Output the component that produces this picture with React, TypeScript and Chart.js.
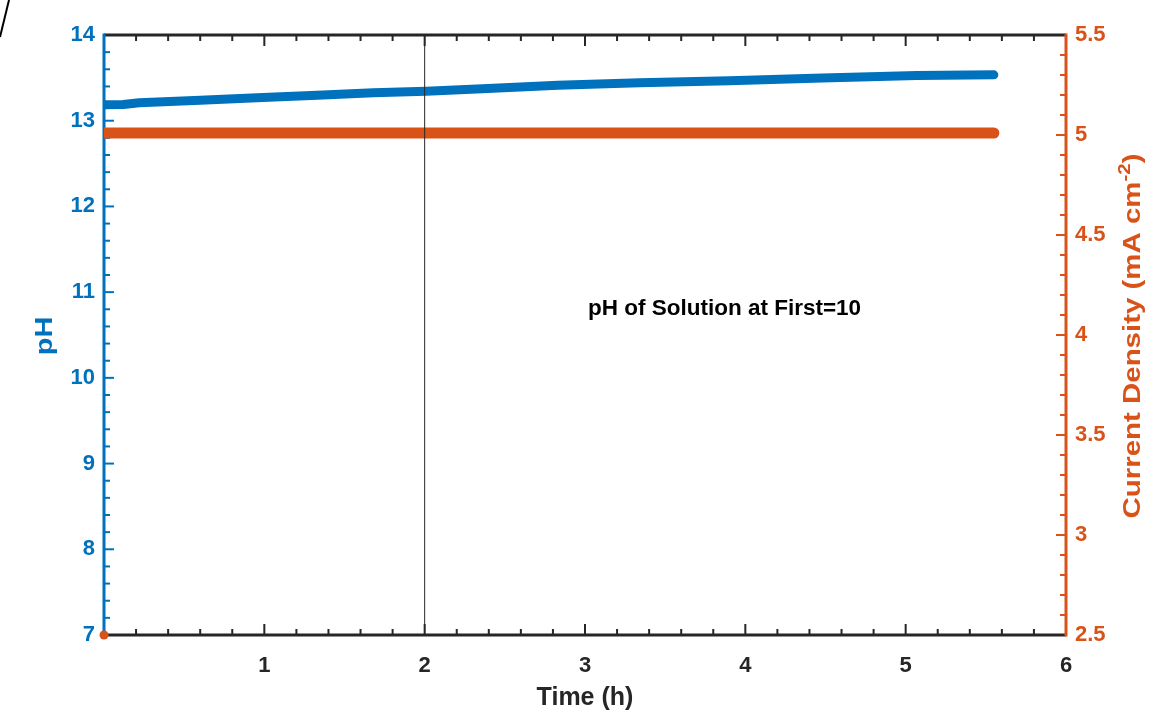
import { useEffect, useRef } from 'react';
import { Chart, registerables } from 'chart.js';

Chart.register(...registerables);

// ---- data ----
const phTime = [0, 0.12, 0.22, 0.6, 0.99, 1.33, 1.68, 2.01, 2.36, 2.83, 3.34, 3.9, 4.48, 5.07, 5.55];
const phValues = [13.185, 13.19, 13.21, 13.238, 13.272, 13.298, 13.326, 13.345, 13.372, 13.415, 13.442, 13.466, 13.497, 13.528, 13.535];
const currentTime = [0, 1, 2, 3, 4, 5, 5.55];
const currentValues = [5.01, 5.01, 5.01, 5.01, 5.01, 5.01, 5.01];
const startTime = [0];
const startCurrent = [2.5];
const markerTime = [2];
const xTitle = 'Time (h)';
const yTitle = 'pH';
const y1TitleMain = 'Current Density (mA cm';
const y1TitleSup = '-2';
const y1TitleEnd = ')';
const annotationText = 'pH of Solution at First=10';
const annotationX = 3.87;
const annotationY = 10.81;

const BLUE = '#0072BD';
const ORANGE = '#D95319';
const DARK = '#262626';
const FONT = '"Liberation Sans", Arial, sans-serif';

function drawVerticalTitle(ctx: CanvasRenderingContext2D, cx: number, cy: number, parts: { text: string; size: number; raise: number }[], color: string, stretch: number) {
  ctx.save();
  ctx.translate(cx, cy);
  ctx.rotate(-Math.PI / 2);
  ctx.scale(stretch, 1);
  ctx.fillStyle = color;
  ctx.textBaseline = 'middle';
  ctx.textAlign = 'left';
  let total = 0;
  const widths = parts.map((p) => {
    ctx.font = `bold ${p.size}px ${FONT}`;
    const w = ctx.measureText(p.text).width;
    total += w;
    return w;
  });
  let x = -total / 2;
  parts.forEach((p, i) => {
    ctx.font = `bold ${p.size}px ${FONT}`;
    ctx.fillText(p.text, x, -p.raise);
    x += widths[i];
  });
  ctx.restore();
}

const boxPlugin = {
  id: 'matlabBox',
  beforeDatasetsDraw(chart: any) {
    const { ctx, chartArea, scales } = chart;
    const { left, right, top, bottom } = chartArea;
    const xs = scales.x, yl = scales.y, yr = scales.y1;
    ctx.save();
    ctx.lineCap = 'butt';
    ctx.lineWidth = 2;
    ctx.strokeStyle = DARK;
    for (let i = 0; i <= 30; i++) {
      const px = xs.getPixelForValue(i / 5);
      const len = i % 5 === 0 ? 11 : 6;
      ctx.beginPath();
      ctx.moveTo(px, bottom); ctx.lineTo(px, bottom - len);
      ctx.moveTo(px, top); ctx.lineTo(px, top + len);
      ctx.stroke();
    }
    ctx.strokeStyle = BLUE;
    for (let i = 0; i <= 35; i++) {
      const py = yl.getPixelForValue(7 + i * 0.2);
      const len = i % 5 === 0 ? 10 : 6;
      ctx.beginPath();
      ctx.moveTo(left, py); ctx.lineTo(left + len, py);
      ctx.stroke();
    }
    ctx.strokeStyle = ORANGE;
    for (let i = 0; i <= 30; i++) {
      const py = yr.getPixelForValue(2.5 + i * 0.1);
      const len = i % 5 === 0 ? 10 : 6;
      ctx.beginPath();
      ctx.moveTo(right, py); ctx.lineTo(right - len, py);
      ctx.stroke();
    }
    ctx.lineWidth = 3;
    ctx.strokeStyle = DARK;
    ctx.beginPath();
    ctx.moveTo(left, top); ctx.lineTo(right, top);
    ctx.moveTo(left, bottom); ctx.lineTo(right, bottom);
    ctx.stroke();
    ctx.strokeStyle = BLUE;
    ctx.beginPath();
    ctx.moveTo(left, top - 1.5); ctx.lineTo(left, bottom + 1.5);
    ctx.stroke();
    ctx.strokeStyle = ORANGE;
    ctx.beginPath();
    ctx.moveTo(right, top - 1.5); ctx.lineTo(right, bottom + 1.5);
    ctx.stroke();
    ctx.restore();
  },
  afterDatasetsDraw(chart: any) {
    const { ctx, scales, chartArea } = chart;
    ctx.save();
    ctx.font = `bold 22.5px ${FONT}`;
    ctx.fillStyle = '#000';
    ctx.textAlign = 'center';
    ctx.textBaseline = 'middle';
    ctx.fillText(annotationText, scales.x.getPixelForValue(annotationX), scales.y.getPixelForValue(annotationY));

    const cy = (chartArea.top + chartArea.bottom) / 2 + 1;
    drawVerticalTitle(ctx, 46, cy, [{ text: yTitle, size: 23, raise: 0 }], BLUE, 1.26);
    drawVerticalTitle(
      ctx,
      1134,
      cy,
      [
        { text: y1TitleMain, size: 23, raise: 0 },
        { text: y1TitleSup, size: 16, raise: 8 },
        { text: y1TitleEnd, size: 23, raise: 0 },
      ],
      ORANGE,
      1.28,
    );

    // stray stroke at the top-left corner of the original picture
    ctx.strokeStyle = '#000';
    ctx.lineWidth = 2;
    ctx.beginPath();
    ctx.moveTo(9, 0); ctx.lineTo(0, 37);
    ctx.stroke();
    ctx.restore();
  },
};

export default function App() {
  const ref = useRef<HTMLCanvasElement | null>(null);

  useEffect(() => {
    if (!ref.current) return;
    const tickFont = { family: FONT, size: 22, weight: 'bold' as const };
    const chart = new Chart(ref.current, {
      type: 'line',
      data: {
        datasets: [
          {
            label: 'marker',
            data: [
              { x: markerTime[0], y: 7 },
              { x: markerTime[0], y: 14 },
            ],
            yAxisID: 'y',
            borderColor: DARK,
            borderWidth: 1,
            pointRadius: 0,
          },
          {
            label: 'start',
            data: startTime.map((t, i) => ({ x: t, y: startCurrent[i] })),
            yAxisID: 'y1',
            showLine: false,
            pointRadius: 4.5,
            pointBackgroundColor: ORANGE,
            pointBorderWidth: 0,
            clip: false as any,
          },
          {
            label: 'pH',
            data: phTime.map((t, i) => ({ x: t, y: phValues[i] })),
            yAxisID: 'y',
            borderColor: BLUE,
            borderWidth: 9,
            borderCapStyle: 'round',
            borderJoinStyle: 'round',
            pointRadius: 0,
            tension: 0,
          },
          {
            label: 'Current Density',
            data: currentTime.map((t, i) => ({ x: t, y: currentValues[i] })),
            yAxisID: 'y1',
            borderColor: ORANGE,
            borderWidth: 11,
            borderCapStyle: 'round',
            pointRadius: 0,
            tension: 0,
          },
        ],
      },
      options: {
        animation: false,
        responsive: false,
        devicePixelRatio: 1,
        layout: { padding: { top: 35, left: 0, right: 0, bottom: 0 } },
        plugins: { legend: { display: false }, tooltip: { enabled: false } },
        scales: {
          x: {
            type: 'linear',
            position: 'bottom',
            min: 0,
            max: 6,
            grid: { display: false, drawTicks: false },
            border: { display: false },
            ticks: {
              stepSize: 1,
              autoSkip: false,
              maxRotation: 0,
              padding: 18,
              color: DARK,
              font: tickFont,
              callback: (v: any) => (Number(v) === 0 ? '' : String(v)),
            },
            title: {
              display: true,
              text: xTitle,
              color: DARK,
              font: { family: FONT, size: 25, weight: 'bold' },
              padding: { top: 0, bottom: 1 },
            },
            afterFit: (s: any) => { s.height = 79; },
          },
          y: {
            type: 'linear',
            position: 'left',
            min: 7,
            max: 14,
            grid: { display: false, drawTicks: false },
            border: { display: false },
            ticks: {
              stepSize: 1,
              padding: 9,
              color: BLUE,
              font: tickFont,
              callback: (v: any) => String(v),
            },
            afterFit: (s: any) => { s.width = 104; },
          },
          y1: {
            type: 'linear',
            position: 'right',
            min: 2.5,
            max: 5.5,
            grid: { display: false, drawTicks: false },
            border: { display: false },
            ticks: {
              stepSize: 0.5,
              padding: 9,
              color: ORANGE,
              font: tickFont,
              callback: (v: any) => String(v),
            },
            afterFit: (s: any) => { s.width = 86; },
          },
        },
      } as any,
      plugins: [boxPlugin],
    });
    return () => chart.destroy();
  }, []);

  return (
    <div style={{ position: 'fixed', left: 0, top: 0, width: 1152, height: 714, background: '#fff' }}>
      <canvas ref={ref} width={1152} height={714} style={{ width: 1152, height: 714 }} />
    </div>
  );
}
